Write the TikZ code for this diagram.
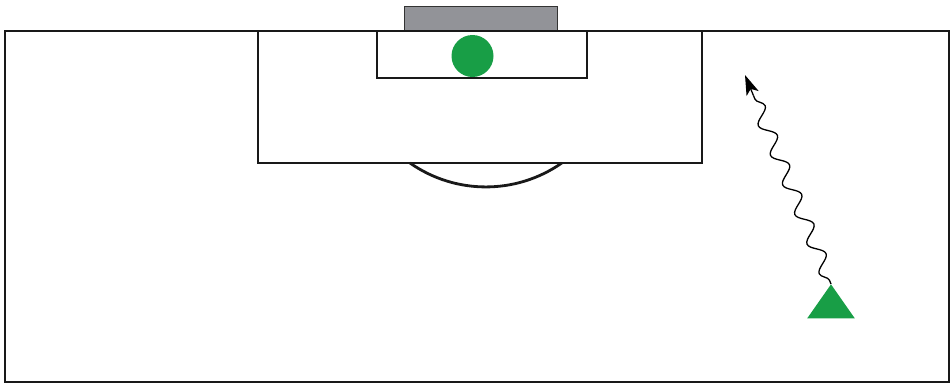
\documentclass[tikz,border=0pt]{standalone}
\usetikzlibrary{shapes.geometric,decorations.pathmorphing,arrows.meta,calc}
\definecolor{pitchgreen}{RGB}{24,158,70}
\definecolor{goalgray}{RGB}{146,147,152}
\tikzset{
  pitchline/.style={draw=black!90, line width=2.8pt},
  goalbox/.style={draw=black!80, fill=goalgray, line width=1pt},
  ball/.style={circle, fill=pitchgreen, minimum size=42pt, inner sep=0pt},
  player/.style={isosceles triangle, isosceles triangle apex angle=70, shape border rotate=90, fill=pitchgreen, minimum height=34pt, inner sep=0pt},
  runwave/.style={black, line width=1.3pt, decorate,
    decoration={snake, amplitude=7pt, segment length=32pt, pre length=4pt, post length=2pt}},
  runtip/.style={black, line width=1.3pt, -{Stealth[length=20pt,width=13pt,inset=5pt]}}
}
\begin{document}
\begin{tikzpicture}[x=1pt,y=-1pt]
\useasboundingbox (0,0) rectangle (951,384);
% goal
\draw[goalbox] (404,6) rectangle (557,31);
% pitch outline
\draw[pitchline] (5,31) rectangle (949,382);
% penalty box
\draw[pitchline] (258,31) rectangle (702,163);
% six-yard box
\draw[pitchline] (377,31) rectangle (587,78);
% penalty arc
\draw[pitchline] (410,163) arc[start angle=125, end angle=55, radius=132.3];
% ball
\node[ball] (ball) at (472.5,56) {};
% player
\node[player, anchor=apex] (pl) at (831,284) {};
\coordinate (target) at (745,75);
\coordinate (bend) at ($(target)!22pt!(pl.apex)$);
\draw[runwave] (pl.apex) -- (bend);
\draw[runtip] (bend) -- (target);
\end{tikzpicture}
\end{document}
